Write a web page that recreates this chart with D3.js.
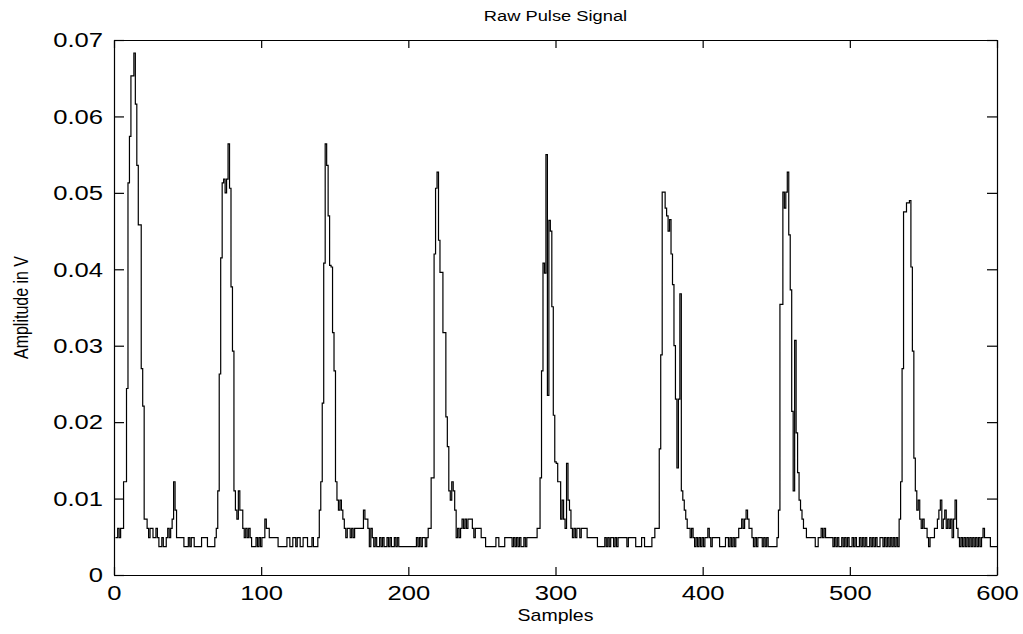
<!DOCTYPE html>
<html>
  <head>
    <meta charset="utf-8">
    <script src="https://d3js.org/d3.v7.min.js"></script>
    <style>
      body { margin: 0; background: white; }
      text { font-family: "Liberation Sans", Arial, sans-serif; fill: black; }
    </style>
  </head>
  <body>
    <div id="chart"></div>
    <script>
      var title = "Raw Pulse Signal";
      var xLabel = "Samples";
      var yLabel = "Amplitude in V";
      var xTicks = [0, 100, 200, 300, 400, 500, 600];
      var yTicks = [0, 0.01, 0.02, 0.03, 0.04, 0.05, 0.06, 0.07];

      // amplitude (V) for samples 1..600
      var amplitude = [
        0.0049,0.0049,0.0061,0.0049,0.0061,0.0061,0.0122,0.0122,0.0244,0.0513,0.0574,0.0653,0.0653,0.0683,0.0616,0.0536,0.0458,0.0458,0.0270,0.0221,
        0.0073,0.0073,0.0061,0.0049,0.0061,0.0061,0.0049,0.0049,0.0061,0.0049,0.0037,0.0037,0.0049,0.0037,0.0037,0.0049,0.0061,0.0049,0.0061,0.0073,
        0.0122,0.0085,0.0049,0.0049,0.0049,0.0049,0.0049,0.0037,0.0037,0.0037,0.0049,0.0037,0.0049,0.0049,0.0037,0.0037,0.0037,0.0037,0.0037,0.0049,
        0.0049,0.0049,0.0049,0.0037,0.0037,0.0037,0.0037,0.0037,0.0049,0.0061,0.0110,0.0263,0.0415,0.0513,0.0518,0.0500,0.0518,0.0564,0.0506,0.0377,
        0.0293,0.0110,0.0085,0.0073,0.0110,0.0085,0.0085,0.0061,0.0049,0.0061,0.0049,0.0061,0.0049,0.0037,0.0037,0.0037,0.0049,0.0037,0.0049,0.0037,
        0.0049,0.0049,0.0073,0.0061,0.0061,0.0049,0.0049,0.0049,0.0049,0.0049,0.0049,0.0037,0.0037,0.0037,0.0037,0.0037,0.0037,0.0049,0.0049,0.0037,
        0.0037,0.0049,0.0049,0.0037,0.0049,0.0049,0.0037,0.0037,0.0049,0.0049,0.0049,0.0037,0.0037,0.0037,0.0049,0.0037,0.0037,0.0037,0.0049,0.0085,
        0.0122,0.0225,0.0408,0.0564,0.0536,0.0470,0.0405,0.0403,0.0317,0.0267,0.0122,0.0098,0.0085,0.0098,0.0085,0.0073,0.0061,0.0049,0.0061,0.0061,
        0.0049,0.0061,0.0049,0.0061,0.0061,0.0061,0.0061,0.0061,0.0061,0.0085,0.0073,0.0073,0.0061,0.0037,0.0061,0.0049,0.0037,0.0049,0.0037,0.0037,
        0.0049,0.0037,0.0049,0.0037,0.0037,0.0049,0.0037,0.0049,0.0037,0.0037,0.0049,0.0037,0.0049,0.0037,0.0037,0.0037,0.0037,0.0037,0.0037,0.0037,
        0.0037,0.0037,0.0037,0.0037,0.0037,0.0049,0.0037,0.0049,0.0037,0.0049,0.0049,0.0037,0.0049,0.0061,0.0061,0.0127,0.0127,0.0420,0.0506,0.0527,
        0.0438,0.0396,0.0396,0.0317,0.0317,0.0207,0.0168,0.0110,0.0098,0.0122,0.0110,0.0085,0.0049,0.0061,0.0049,0.0061,0.0073,0.0061,0.0073,0.0061,
        0.0073,0.0073,0.0073,0.0061,0.0049,0.0061,0.0061,0.0061,0.0061,0.0049,0.0049,0.0049,0.0037,0.0037,0.0037,0.0037,0.0037,0.0037,0.0037,0.0049,
        0.0049,0.0037,0.0037,0.0037,0.0037,0.0049,0.0049,0.0049,0.0049,0.0049,0.0037,0.0049,0.0037,0.0049,0.0037,0.0049,0.0037,0.0037,0.0049,0.0037,
        0.0049,0.0049,0.0049,0.0049,0.0049,0.0049,0.0049,0.0061,0.0061,0.0127,0.0267,0.0408,0.0395,0.0550,0.0235,0.0464,0.0450,0.0351,0.0209,0.0148,
        0.0146,0.0122,0.0122,0.0073,0.0098,0.0073,0.0061,0.0146,0.0098,0.0085,0.0061,0.0049,0.0061,0.0049,0.0061,0.0061,0.0049,0.0061,0.0061,0.0061,
        0.0061,0.0049,0.0049,0.0049,0.0049,0.0049,0.0049,0.0049,0.0037,0.0037,0.0037,0.0037,0.0037,0.0049,0.0037,0.0049,0.0037,0.0049,0.0049,0.0037,
        0.0049,0.0037,0.0049,0.0049,0.0049,0.0049,0.0049,0.0049,0.0037,0.0049,0.0049,0.0049,0.0049,0.0049,0.0037,0.0037,0.0037,0.0037,0.0049,0.0049,
        0.0037,0.0037,0.0037,0.0037,0.0037,0.0049,0.0049,0.0061,0.0061,0.0061,0.0165,0.0288,0.0501,0.0501,0.0480,0.0470,0.0450,0.0465,0.0420,0.0380,
        0.0300,0.0230,0.0140,0.0230,0.0368,0.0110,0.0098,0.0085,0.0073,0.0061,0.0061,0.0049,0.0061,0.0049,0.0037,0.0049,0.0037,0.0049,0.0037,0.0049,
        0.0037,0.0049,0.0049,0.0061,0.0049,0.0037,0.0049,0.0049,0.0049,0.0049,0.0049,0.0037,0.0037,0.0037,0.0037,0.0049,0.0049,0.0037,0.0049,0.0037,
        0.0049,0.0037,0.0049,0.0049,0.0061,0.0061,0.0073,0.0061,0.0073,0.0085,0.0073,0.0061,0.0061,0.0049,0.0037,0.0049,0.0037,0.0049,0.0049,0.0049,
        0.0037,0.0049,0.0037,0.0049,0.0037,0.0037,0.0037,0.0037,0.0037,0.0037,0.0049,0.0085,0.0354,0.0354,0.0501,0.0480,0.0501,0.0527,0.0445,0.0373,
        0.0214,0.0110,0.0307,0.0186,0.0134,0.0098,0.0085,0.0073,0.0061,0.0061,0.0049,0.0049,0.0049,0.0049,0.0049,0.0049,0.0037,0.0037,0.0049,0.0049,
        0.0061,0.0049,0.0061,0.0049,0.0049,0.0049,0.0049,0.0049,0.0037,0.0049,0.0037,0.0049,0.0037,0.0037,0.0049,0.0037,0.0049,0.0037,0.0049,0.0037,
        0.0037,0.0049,0.0037,0.0049,0.0037,0.0037,0.0049,0.0037,0.0049,0.0037,0.0049,0.0037,0.0037,0.0049,0.0037,0.0049,0.0037,0.0049,0.0037,0.0037,
        0.0049,0.0049,0.0037,0.0049,0.0037,0.0049,0.0037,0.0049,0.0037,0.0049,0.0037,0.0049,0.0037,0.0073,0.0122,0.0270,0.0475,0.0475,0.0487,0.0487,
        0.0490,0.0403,0.0293,0.0153,0.0110,0.0085,0.0098,0.0073,0.0061,0.0073,0.0061,0.0061,0.0049,0.0037,0.0049,0.0049,0.0049,0.0061,0.0061,0.0073,
        0.0085,0.0098,0.0061,0.0073,0.0085,0.0061,0.0073,0.0061,0.0073,0.0049,0.0073,0.0098,0.0061,0.0049,0.0037,0.0049,0.0037,0.0049,0.0037,0.0049,
        0.0037,0.0049,0.0037,0.0049,0.0037,0.0049,0.0037,0.0049,0.0037,0.0049,0.0061,0.0049,0.0049,0.0049,0.0049,0.0037,0.0037,0.0037,0.0037,0.0037
      ];

      var width = 1023, height = 634;
      var margin = {top: 40, right: 26, bottom: 59, left: 114};
      var plotW = width - margin.left - margin.right;
      var plotH = height - margin.top - margin.bottom;
      var stretch = 1.22; // the labels in the picture are drawn wide

      var x = d3.scaleLinear().domain([0, 600]).range([0, plotW]);
      var y = d3.scaleLinear().domain([0, 0.07]).range([plotH, 0]);

      var svg = d3.select("#chart").append("svg")
        .attr("width", width)
        .attr("height", height);

      var g = svg.append("g")
        .attr("transform", "translate(" + margin.left + "," + margin.top + ")");

      var line = d3.line()
        .curve(d3.curveStep)
        .x(function(d, i) { return x(i + 1); })
        .y(function(d) { return y(d); });

      g.append("path")
        .datum(amplitude)
        .attr("fill", "none")
        .attr("stroke", "black")
        .attr("stroke-width", 1.2)
        .attr("d", line);

      var yFmt = function(d) { return d === 0 ? "0" : d.toFixed(2); };

      // MATLAB style box with inward ticks on every side
      var xAxis = g.append("g")
        .attr("class", "axis")
        .attr("transform", "translate(0," + plotH + ")")
        .call(d3.axisBottom(x).tickValues(xTicks).tickSizeInner(-8).tickSizeOuter(0).tickPadding(10));
      g.append("g")
        .attr("class", "axis")
        .call(d3.axisTop(x).tickValues(xTicks).tickSizeInner(-8).tickSizeOuter(0).tickFormat(""));
      var yAxis = g.append("g")
        .attr("class", "axis")
        .call(d3.axisLeft(y).tickValues(yTicks).tickSizeInner(-10).tickSizeOuter(0).tickFormat(yFmt));
      g.append("g")
        .attr("class", "axis")
        .attr("transform", "translate(" + plotW + ",0)")
        .call(d3.axisRight(y).tickValues(yTicks).tickSizeInner(-10).tickSizeOuter(0).tickFormat(""));

      svg.selectAll(".axis path, .axis line")
        .attr("stroke", "black")
        .attr("stroke-width", 1.2);
      svg.selectAll(".axis text")
        .attr("fill", "black")
        .style("font-family", "Liberation Sans, Arial, sans-serif")
        .style("font-size", "21px");

      xAxis.selectAll("text").attr("transform", "scale(" + stretch + ",1)");
      yAxis.selectAll("text")
        .attr("x", -11 / stretch)
        .attr("transform", "scale(" + stretch + ",1)");

      svg.append("text")
        .attr("x", margin.left + plotW / 2)
        .attr("y", 21)
        .attr("text-anchor", "middle")
        .attr("transform", "translate(" + (margin.left + plotW / 2) * (1 - stretch) + ",0) scale(" + stretch + ",1)")
        .style("font-size", "15px")
        .text(title);

      svg.append("text")
        .attr("x", margin.left + plotW / 2)
        .attr("y", 621)
        .attr("text-anchor", "middle")
        .attr("transform", "translate(" + (margin.left + plotW / 2) * (1 - stretch) + ",0) scale(" + stretch + ",1)")
        .style("font-size", "16px")
        .text(xLabel);

      svg.append("text")
        .attr("transform", "translate(28," + (margin.top + plotH / 2) + ") scale(" + stretch + ",1) rotate(-90)")
        .attr("text-anchor", "middle")
        .style("font-size", "16px")
        .text(yLabel);
    </script>
  </body>
</html>
